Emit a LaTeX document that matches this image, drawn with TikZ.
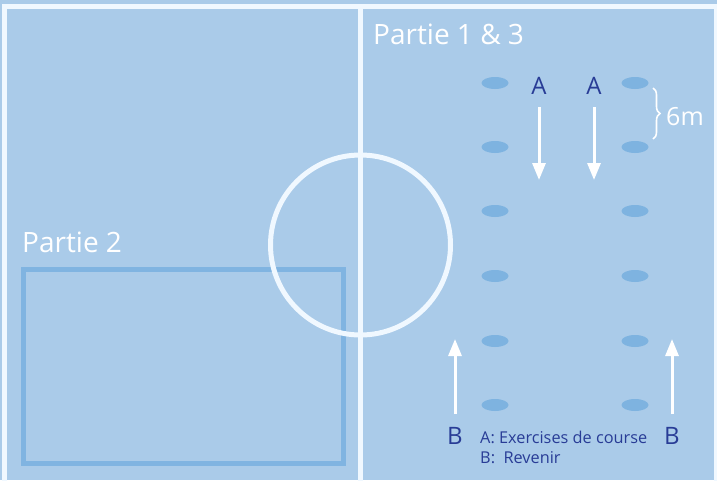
\documentclass[tikz,border=0pt]{standalone}
\usepackage{fontspec}
\setmainfont{Open Sans}
\usetikzlibrary{arrows.meta,decorations.pathreplacing,shapes.geometric}
\definecolor{fieldbg}{RGB}{170,203,233}
\definecolor{conecol}{RGB}{126,179,224}
\definecolor{zonecol}{RGB}{128,180,225}
\definecolor{linecol}{RGB}{240,248,255}
\definecolor{labelcol}{RGB}{40,60,150}
\tikzset{
  fieldline/.style={draw=linecol,line width=5pt},
  cone/.style={fill=conecol,ellipse,inner sep=0pt,minimum width=27pt,minimum height=12pt},
  runarrow/.style={draw=white,line width=3pt,-{Triangle[width=13pt,length=17pt]}},
  letter/.style={text=labelcol,font=\fontsize{24}{24}\selectfont,inner sep=0pt},
  parttext/.style={text=white,font=\fontsize{28}{28}\selectfont,inner sep=0pt,anchor=base west},
  legend/.style={text=labelcol,font=\fontsize{16.3}{19}\selectfont,inner sep=0pt,anchor=base west}
}
\begin{document}
\begin{tikzpicture}[x=1pt,y=-1pt]
\fill[fieldbg] (0,0) rectangle (717,480);
\useasboundingbox (0,0) rectangle (717,480);
% zone partie 2
\draw[draw=zonecol,line width=5pt] (23,269.5) rectangle (343.5,463);
% field lines
\draw[fieldline] (4.5,490) -- (4.5,6.5) -- (716,6.5) -- (716,490);
\draw[fieldline] (360.5,6.5) -- (360.5,490);
\draw[fieldline] (360.5,245) circle[radius=90];
% texts
\node[parttext] (p13) at (373,44) {Partie 1 \& 3};
\node[parttext] (p2) at (22,252) {Partie 2};
% cones
\foreach \i/\y in {1/83,2/147,3/211,4/276,5/341,6/405}{
  \node[cone] (l\i) at (495,\y) {};
  \node[cone] (r\i) at (635,\y) {};
}
% A arrows
\node[letter] (a1) at (539,86) {A};
\node[letter] (a2) at (594,86) {A};
\coordinate (a1e) at (539,180);
\coordinate (a2e) at (594,180);
\draw[runarrow] ([yshift=-12pt]a1.south) -- (a1e);
\draw[runarrow] ([yshift=-12pt]a2.south) -- (a2e);
% B arrows
\node[letter] (b1) at (455,436) {B};
\node[letter] (b2) at (672,436) {B};
\coordinate (b1e) at (455,339);
\coordinate (b2e) at (672,339);
\draw[runarrow] ([yshift=13pt]b1.north) -- (b1e);
\draw[runarrow] ([yshift=13pt]b2.north) -- (b2e);
% brace
\coordinate (bt) at (653,88);
\coordinate (bb) at (653,139);
\draw[white,line width=1.6pt,decorate,decoration={brace,amplitude=7pt}] (bt) -- (bb);
\node[text=white,font=\fontsize{25}{25}\selectfont,inner sep=0pt,anchor=base west] (six) at (666,125) {6m};
% legend
\node[legend] (la) at (480,443) {A: Exercises de course};
\node[legend] (lb) at (480,463) {B:\ \ Revenir};
\end{tikzpicture}
\end{document}
